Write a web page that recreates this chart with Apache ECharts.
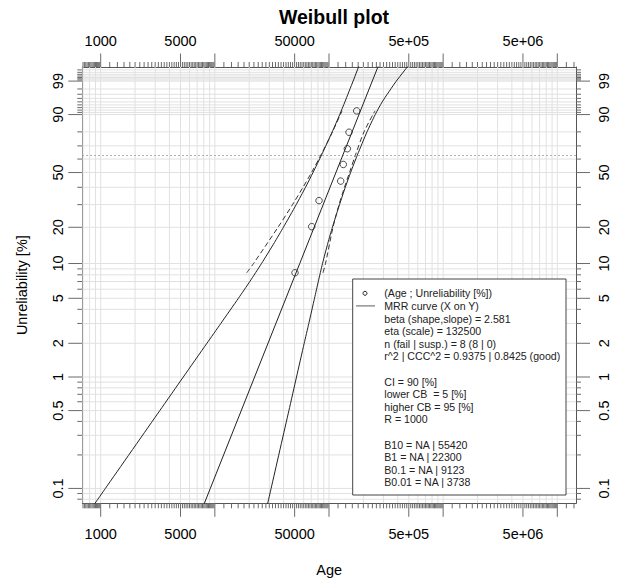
<!DOCTYPE html>
<html>
<head>
<meta charset="utf-8">
<script src="https://cdn.jsdelivr.net/npm/echarts@6/dist/echarts.min.js"></script>
<style>html,body{margin:0;padding:0;background:#fff}#c{width:619px;height:579px}</style>
</head>
<body>
<div id="c"></div>
<script>
// ---------------- data ----------------
const ageData   = [50370, 70530, 81730, 126600, 133500, 144700, 149700, 174800];
const unrelPct  = [8.33, 20.24, 32.14, 44.05, 55.95, 67.86, 79.76, 91.67];

// MRR fit line (B-lives from the legend, eta at 63.21 %)
const fitPct = [0.01, 0.1, 1, 10, 63.21, 99.9];
const fitAge = [3738, 9123, 22300, 55420, 132500, 280000];

// solid confidence curves
const boundPct = [0.05, 0.1, 0.5, 1, 2, 3, 5, 7, 10, 15, 20, 30, 40, 50, 63.21, 80, 90, 95, 99, 99.9];
const lowerAge = [686, 1099, 3294, 5291, 8520, 11280, 16080, 20240, 25630, 33240, 39850, 51600, 62270, 72410,
                  86120, 106700, 124100, 137800, 162600, 189200];
const upperAge = [26690, 31100, 44530, 51920, 60630, 66550, 74640, 80600, 87720, 98000, 107100, 123600, 138900,
                  154600, 177400, 215300, 254000, 292500, 388700, 530300];

// dashed bounds over the data range
const cbPct      = [8.33, 10, 20, 30, 40, 50, 63.21, 80, 91.67];
const cbLowerAge = [19010, 21810, 35740, 47900, 59190, 70260, 85100, 107300, 130000];
const cbUpperAge = [88570, 93190, 108400, 122400, 136700, 151200, 170700, 202600, 252900];

// axes
const ageMin = 690, ageMax = 1.458e7;
const pctMin = 0.0735, pctMax = 99.79;
const xLabelValues = [1000, 5000, 50000, 500000, 5000000];
const xLabelText   = ['1000', '5000', '50000', '5e+05', '5e+06'];
const yLabelValues = [0.1, 0.5, 1, 2, 5, 10, 20, 50, 90, 99];
const yLabelText   = ['0.1', '0.5', '1', '2', '5', '10', '20', '50', '90', '99'];
const yMinorTicks  = [0.08, 0.09, 0.2, 0.3, 0.4, 0.6, 0.7, 0.8, 0.9, 3, 4, 6, 7, 8, 9, 30, 40, 60, 70, 80,
                      91, 92, 93, 94, 95, 96, 97, 98, 99.1, 99.2, 99.3, 99.4, 99.5, 99.6, 99.7];
const charPct = 63.21;

const legendLines = [
  '(Age ; Unreliability [%])',
  'MRR curve (X on Y)',
  'beta (shape,slope) = 2.581',
  'eta (scale) = 132500',
  'n (fail | susp.) = 8 (8 | 0)',
  'r^2 | CCC^2 = 0.9375 | 0.8425 (good)',
  '',
  'CI = 90 [%]',
  'lower CB  = 5 [%]',
  'higher CB = 95 [%]',
  'R = 1000',
  '',
  'B10 = NA | 55420',
  'B1 = NA | 22300',
  'B0.1 = NA | 9123',
  'B0.01 = NA | 3738'
];

// ---------------- scales ----------------
const L10 = v => Math.log10(v);
const weib = p => Math.log(-Math.log(1 - p / 100));
const xMin = L10(ageMin), xMax = L10(ageMax);
const yMin = weib(pctMin), yMax = weib(pctMax);
const pairs = (pcts, ages) => pcts.map((p, i) => [L10(ages[i]), weib(p)]);

// tick / grid value sets
const xTickData = [];
for (let k = 2; k <= 7; k++) {
  for (let m = 10; m < 100; m += 2) {
    const v = m / 10 * Math.pow(10, k);
    if (v >= ageMin && v <= ageMax) xTickData.push([L10(v), (m === 10 || m === 50) ? 1 : 0]);
  }
}
const xGridData = [];
for (let k = 2; k <= 7; k++) {
  for (let m = 1; m <= 9; m++) {
    const v = m * Math.pow(10, k);
    if (v >= ageMin && v <= ageMax) xGridData.push([L10(v), 0]);
  }
}
const yTickData = yLabelValues.map(p => [xMin, weib(p), 1]).concat(yMinorTicks.map(p => [xMin, weib(p), 0]));

const FONT = '"Liberation Sans", Arial, Helvetica, sans-serif';
const findLabel = (vals, txt, f) => v => {
  for (let i = 0; i < vals.length; i++) if (Math.abs(f(vals[i]) - v) < 1e-6) return txt[i];
  return '';
};
const fmtX = findLabel(xLabelValues, xLabelText, L10);
const fmtY = findLabel(yLabelValues, yLabelText, weib);

const TICK = '#6a6a6a', BOX = '#555', GRID = '#e1e1e1', INK = '#222';

function xAxisCfg(pos, margin, withName) {
  return {
    type: 'value', position: pos, min: xMin, max: xMax,
    axisLine: { show: true, onZero: false, lineStyle: { color: BOX, width: 1 } },
    axisTick: { show: false }, splitLine: { show: false },
    axisLabel: { show: true, customValues: xLabelValues.map(L10), formatter: fmtX, margin: margin,
                 color: '#000', fontSize: 14.5, fontFamily: FONT, hideOverlap: false },
    name: withName ? 'Age' : '', nameLocation: 'middle', nameGap: 59,
    nameTextStyle: { color: '#000', fontSize: 14.5, fontFamily: FONT }
  };
}
function yAxisCfg(pos, margin, withName) {
  return {
    type: 'value', position: pos, min: yMin, max: yMax,
    axisLine: { show: true, onZero: false, lineStyle: { color: BOX, width: 1 } },
    axisTick: { show: false }, splitLine: { show: false },
    axisLabel: { show: true, customValues: yLabelValues.map(weib), formatter: fmtY, margin: margin, rotate: 90,
                 color: '#000', fontSize: 14.5, fontFamily: FONT, hideOverlap: false },
    name: withName ? 'Unreliability [%]' : '', nameLocation: 'middle', nameGap: 53, nameRotate: 90,
    nameTextStyle: { color: '#000', fontSize: 14.5, fontFamily: FONT }
  };
}

const chart = echarts.init(document.getElementById('c'), null, { renderer: 'svg' });

const LX = 352.7, LY = 279, LW = 213.3, LH = 216, L0 = 293.3, LSTEP = 12.6;
const legendGraphics = [
  { type: 'rect', z: 100, shape: { x: LX, y: LY, width: LW, height: LH },
    style: { fill: '#fff', stroke: '#444', lineWidth: 1 } },
  { type: 'circle', z: 101, shape: { cx: 365, cy: L0, r: 2 },
    style: { fill: 'none', stroke: INK, lineWidth: 1 } },
  { type: 'line', z: 101, shape: { x1: 356, y1: L0 + LSTEP, x2: 375, y2: L0 + LSTEP },
    style: { stroke: '#777', lineWidth: 1.2 } }
].concat(legendLines.map((t, k) => ({
  type: 'text', z: 101, x: 384.3, y: L0 + LSTEP * k,
  style: { text: t, fill: INK, fontSize: 10.6, fontFamily: FONT,
           align: 'left', verticalAlign: 'middle', textAlign: 'left', textVerticalAlign: 'middle' }
})));

chart.setOption({
  animation: false,
  backgroundColor: '#fff',
  textStyle: { fontFamily: FONT },
  title: { text: 'Weibull plot', left: 329, textAlign: 'center', top: 2,
           textStyle: { fontSize: 19.5, fontWeight: 'bold', color: '#000', fontFamily: FONT } },
  grid: { left: 82.3, top: 67, width: 493.7, height: 436.3, containLabel: false, outerBoundsMode: 'none' },
  xAxis: [xAxisCfg('bottom', 23, true), xAxisCfg('top', 19, false)],
  yAxis: [yAxisCfg('left', 17, true), yAxisCfg('right', 20, false)],
  graphic: legendGraphics,
  series: [
    { // vertical grid lines
      type: 'custom', silent: true, z: 1, clip: true, data: xGridData,
      renderItem: (params, api) => {
        const cs = params.coordSys; const px = api.coord([api.value(0), yMin])[0];
        return { type: 'line', shape: { x1: px, y1: cs.y, x2: px, y2: cs.y + cs.height },
                 style: { stroke: GRID, lineWidth: 1 } };
      }
    },
    { // horizontal grid lines
      type: 'custom', silent: true, z: 1, clip: true, data: yTickData,
      renderItem: (params, api) => {
        const cs = params.coordSys; const py = api.coord([xMin, api.value(1)])[1];
        return { type: 'line', shape: { x1: cs.x, y1: py, x2: cs.x + cs.width, y2: py },
                 style: { stroke: GRID, lineWidth: 1 } };
      }
    },
    { // x ticks, top and bottom
      type: 'custom', silent: true, z: 3, clip: false, data: xTickData,
      renderItem: (params, api) => {
        const cs = params.coordSys; const px = api.coord([api.value(0), yMin])[0];
        const len = api.value(1) ? 13.5 : 5;
        const b = cs.y + cs.height;
        return { type: 'group', children: [
          { type: 'line', shape: { x1: px, y1: cs.y, x2: px, y2: cs.y - len }, style: { stroke: TICK, lineWidth: 1 } },
          { type: 'line', shape: { x1: px, y1: b, x2: px, y2: b + len }, style: { stroke: TICK, lineWidth: 1 } }
        ] };
      }
    },
    { // y ticks, left and right
      type: 'custom', silent: true, z: 3, clip: false, data: yTickData,
      renderItem: (params, api) => {
        const cs = params.coordSys; const py = api.coord([xMin, api.value(1)])[1];
        const len = api.value(2) ? 14 : 5;
        const r = cs.x + cs.width;
        return { type: 'group', children: [
          { type: 'line', shape: { x1: cs.x, y1: py, x2: cs.x - len, y2: py }, style: { stroke: TICK, lineWidth: 1 } },
          { type: 'line', shape: { x1: r, y1: py, x2: r + len, y2: py }, style: { stroke: TICK, lineWidth: 1 } }
        ] };
      }
    },
    {
      name: 'lower', type: 'line', z: 4, symbol: 'none', smooth: 0.2, data: pairs(boundPct, lowerAge),
      lineStyle: { color: INK, width: 1 }
    },
    {
      name: 'upper', type: 'line', z: 4, symbol: 'none', smooth: 0.2, data: pairs(boundPct, upperAge),
      lineStyle: { color: INK, width: 1 }
    },
    {
      name: 'cbLower', type: 'line', z: 4, symbol: 'none', smooth: 0.3, data: pairs(cbPct, cbLowerAge),
      lineStyle: { color: '#333', width: 1, type: [5, 3] }
    },
    {
      name: 'cbUpper', type: 'line', z: 4, symbol: 'none', smooth: 0.3, data: pairs(cbPct, cbUpperAge),
      lineStyle: { color: '#333', width: 1, type: [5, 3] }
    },
    {
      name: 'MRR curve (X on Y)', type: 'line', z: 5, symbol: 'none', data: pairs(fitPct, fitAge),
      lineStyle: { color: INK, width: 1 },
      markLine: { silent: true, symbol: 'none', label: { show: false },
                  lineStyle: { type: [1.5, 2.5], color: '#999', width: 1 },
                  data: [{ yAxis: weib(charPct) }] }
    },
    {
      name: '(Age ; Unreliability [%])', type: 'scatter', z: 6, symbol: 'circle', symbolSize: 6.5,
      data: pairs(unrelPct, ageData),
      itemStyle: { color: 'rgba(0,0,0,0)', borderColor: INK, borderWidth: 1 }
    }
  ]
});
</script>
</body>
</html>
